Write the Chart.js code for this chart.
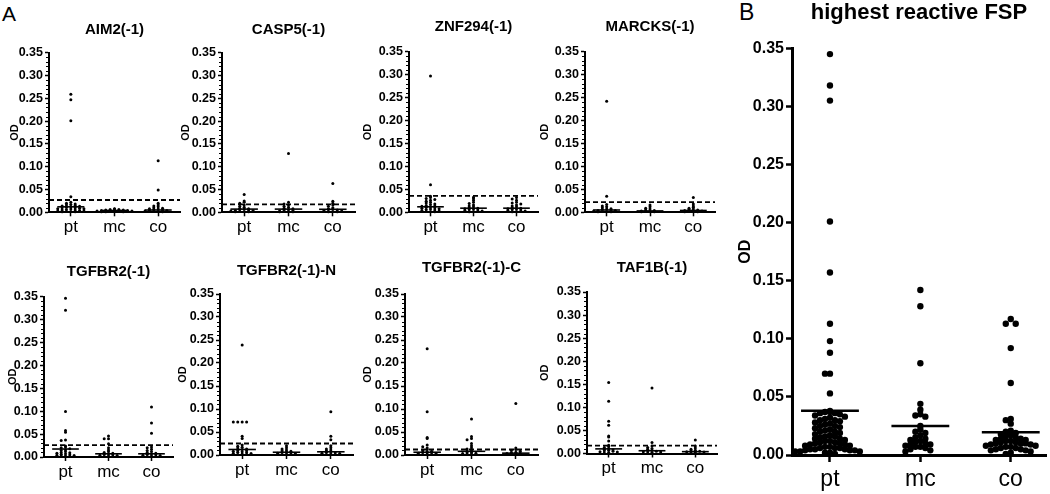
<!DOCTYPE html>
<html>
<head>
<meta charset="utf-8">
<script src="https://cdn.jsdelivr.net/npm/chart.js@4.4.0/dist/chart.umd.min.js"></script>
<style>
  body { margin: 0; background: #fff; width: 1050px; height: 494px; position: relative; overflow: hidden; font-family: "Liberation Sans", Arial, sans-serif; }
  .tag { position: absolute; color: #000; line-height: 1; }
</style>
</head>
<body>
<div class="tag" style="left:2px;top:3px;font-size:21px">A</div>
<div class="tag" style="left:739px;top:1px;font-size:23px">B</div>
<script>
// groups and y ticks shared by every panel
const groups = ["pt", "mc", "co"];
const yTickValues = [0, 0.05, 0.10, 0.15, 0.20, 0.25, 0.30, 0.35];

const panelTitles = ["AIM2(-1)", "CASP5(-1)", "ZNF294(-1)", "MARCKS(-1)",
  "TGFBR2(-1)", "TGFBR2(-1)-N", "TGFBR2(-1)-C", "TAF1B(-1)"];

// OD per peptide, one array per group
const aim2Pt = [0.259, 0.247, 0.201, 0.034, 0.022, 0.020, 0.018, 0.017, 0.016, 0.015, 0.014, 0.013, 0.012, 0.011, 0.010, 0.010, 0.009, 0.008, 0.008, 0.007, 0.006, 0.005, 0.005, 0.004, 0.003, 0.003, 0.002, 0.002, 0.001, 0.001];
const aim2Mc = [0.008, 0.007, 0.006, 0.006, 0.005, 0.005, 0.004, 0.004, 0.003, 0.003, 0.002, 0.002, 0.002, 0.001, 0.001, 0.001];
const aim2Co = [0.113, 0.049, 0.020, 0.016, 0.014, 0.012, 0.010, 0.009, 0.008, 0.007, 0.006, 0.005, 0.004, 0.004, 0.003, 0.002, 0.002, 0.001];

const casp5Pt = [0.039, 0.025, 0.022, 0.020, 0.016, 0.013, 0.011, 0.009, 0.008, 0.007, 0.006, 0.005, 0.004, 0.004, 0.003, 0.002, 0.002, 0.001, 0.001];
const casp5Mc = [0.129, 0.022, 0.018, 0.016, 0.013, 0.011, 0.009, 0.008, 0.006, 0.005, 0.004, 0.003, 0.002, 0.002, 0.001, 0.001];
const casp5Co = [0.063, 0.024, 0.020, 0.016, 0.013, 0.010, 0.008, 0.007, 0.006, 0.005, 0.004, 0.003, 0.002, 0.001, 0.001];

const znf294Pt = [0.297, 0.060, 0.035, 0.032, 0.030, 0.028, 0.026, 0.024, 0.022, 0.020, 0.018, 0.017, 0.015, 0.014, 0.013, 0.012, 0.011, 0.010, 0.009, 0.008, 0.007, 0.006, 0.005, 0.004, 0.003, 0.002, 0.002, 0.001];
const znf294Mc = [0.033, 0.030, 0.026, 0.022, 0.019, 0.016, 0.014, 0.012, 0.010, 0.009, 0.008, 0.007, 0.006, 0.005, 0.004, 0.003, 0.002, 0.001];
const znf294Co = [0.032, 0.029, 0.026, 0.022, 0.020, 0.018, 0.016, 0.014, 0.012, 0.010, 0.009, 0.008, 0.007, 0.006, 0.005, 0.004, 0.003, 0.002, 0.001];

const marcksPt = [0.242, 0.035, 0.017, 0.014, 0.012, 0.010, 0.008, 0.007, 0.006, 0.005, 0.004, 0.004, 0.003, 0.002, 0.002, 0.001, 0.001];
const marcksMc = [0.016, 0.012, 0.009, 0.007, 0.005, 0.004, 0.003, 0.002, 0.002, 0.001, 0.001];
const marcksCo = [0.032, 0.018, 0.014, 0.011, 0.009, 0.007, 0.006, 0.005, 0.004, 0.003, 0.002, 0.002, 0.001, 0.001];

const tgfbr2Pt = [0.346, 0.320, 0.099, 0.058, 0.054, 0.037, 0.036, 0.024, 0.022, 0.020, 0.018, 0.016, 0.014, 0.012, 0.010, 0.009, 0.008, 0.007, 0.006, 0.005, 0.004, 0.003, 0.002, 0.002, 0.001];
const tgfbr2Mc = [0.046, 0.040, 0.040, 0.029, 0.020, 0.015, 0.012, 0.010, 0.008, 0.007, 0.006, 0.005, 0.004, 0.003, 0.002, 0.001];
const tgfbr2Co = [0.109, 0.074, 0.052, 0.022, 0.020, 0.017, 0.014, 0.012, 0.010, 0.008, 0.007, 0.006, 0.005, 0.004, 0.003, 0.002, 0.001];

const tgfbr2NPt = [0.239, 0.072, 0.072, 0.072, 0.072, 0.041, 0.036, 0.022, 0.019, 0.017, 0.015, 0.013, 0.012, 0.010, 0.009, 0.008, 0.007, 0.006, 0.005, 0.004, 0.003, 0.002, 0.001];
const tgfbr2NMc = [0.020, 0.016, 0.013, 0.011, 0.009, 0.008, 0.007, 0.006, 0.005, 0.004, 0.003, 0.002, 0.001];
const tgfbr2NCo = [0.094, 0.041, 0.033, 0.020, 0.016, 0.013, 0.011, 0.009, 0.007, 0.006, 0.005, 0.004, 0.003, 0.002, 0.001];

const tgfbr2CPt = [0.231, 0.094, 0.038, 0.036, 0.022, 0.018, 0.015, 0.012, 0.010, 0.008, 0.007, 0.006, 0.005, 0.004, 0.003, 0.002, 0.001];
const tgfbr2CMc = [0.078, 0.040, 0.036, 0.033, 0.025, 0.020, 0.016, 0.013, 0.010, 0.008, 0.006, 0.005, 0.004, 0.003, 0.002, 0.001];
const tgfbr2CCo = [0.112, 0.015, 0.012, 0.010, 0.008, 0.006, 0.005, 0.004, 0.003, 0.002, 0.001];

const taf1bPt = [0.154, 0.113, 0.070, 0.061, 0.038, 0.036, 0.027, 0.018, 0.015, 0.013, 0.011, 0.009, 0.008, 0.007, 0.006, 0.005, 0.004, 0.003, 0.002, 0.001];
const taf1bMc = [0.142, 0.024, 0.016, 0.013, 0.011, 0.009, 0.007, 0.006, 0.005, 0.004, 0.003, 0.002, 0.001];
const taf1bCo = [0.029, 0.016, 0.012, 0.009, 0.007, 0.006, 0.005, 0.004, 0.003, 0.002, 0.001];

// dashed cutoff and group lines (pt, mc, co) per panel
const cutoffs = [0.027, 0.0175, 0.036, 0.022, 0.026, 0.025, 0.012, 0.017];
const groupLines = [
  [0.012, 0.004, 0.005], [0.007, 0.007, 0.0066], [0.012, 0.009, 0.009], [0.005, 0.003, 0.004],
  [0.0174, 0.007, 0.007], [0.012, 0.006, 0.007], [0.006, 0.008, 0.004], [0.010, 0.006, 0.004]
];

// panel B: highest reactive FSP
const fspPt = [0.345, 0.318, 0.305, 0.201, 0.157, 0.113, 0.098, 0.088, 0.070, 0.070, 0.053,
  0.038, 0.037, 0.037, 0.036, 0.036, 0.035, 0.034, 0.033, 0.032, 0.031, 0.030, 0.030, 0.029, 0.028, 0.027,
  0.026, 0.025, 0.025, 0.024, 0.023, 0.022, 0.021, 0.020, 0.020, 0.019, 0.018, 0.017, 0.016, 0.016, 0.015,
  0.014, 0.014, 0.013, 0.012, 0.012, 0.011, 0.011, 0.010, 0.010, 0.009, 0.009, 0.008, 0.008, 0.007, 0.007,
  0.006, 0.006, 0.006, 0.005, 0.005, 0.005, 0.004, 0.004, 0.004, 0.003, 0.003, 0.003, 0.002, 0.002, 0.001];
const fspMc = [0.142, 0.128, 0.079, 0.044, 0.039, 0.035, 0.034, 0.033, 0.025, 0.022, 0.020, 0.019, 0.017, 0.015, 0.014, 0.013, 0.012, 0.011, 0.010, 0.009, 0.009, 0.008, 0.007, 0.007, 0.006, 0.005, 0.004, 0.003];
const fspCo = [0.117, 0.113, 0.113, 0.092, 0.062, 0.031, 0.030, 0.027, 0.021, 0.020, 0.019, 0.018, 0.017, 0.016, 0.015, 0.014, 0.014, 0.013, 0.013, 0.012, 0.012, 0.011, 0.011, 0.010, 0.010, 0.010, 0.009, 0.009, 0.008, 0.008, 0.007, 0.007, 0.006, 0.006, 0.005, 0.005, 0.004, 0.004, 0.003, 0.002, 0.001];
const fspLines = [0.038, 0.025, 0.0195];

const panelData = [
  [aim2Pt, aim2Mc, aim2Co], [casp5Pt, casp5Mc, casp5Co], [znf294Pt, znf294Mc, znf294Co], [marcksPt, marcksMc, marcksCo],
  [tgfbr2Pt, tgfbr2Mc, tgfbr2Co], [tgfbr2NPt, tgfbr2NMc, tgfbr2NCo], [tgfbr2CPt, tgfbr2CMc, tgfbr2CCo], [taf1bPt, taf1bMc, taf1bCo]
];

// where each panel sits on the page (plot area edges, title and OD centre)
const boxes = [
  { x0: 49, x1: 180, y0: 52.7, y1: 212.3, top: 10, bottom: 244, titleY: 30, odX: 15 },
  { x0: 222, x1: 355, y0: 52.7, y1: 212.3, top: 10, bottom: 244, titleY: 29.5, odX: 186 },
  { x0: 409, x1: 538, y0: 51.7, y1: 212.3, top: 10, bottom: 244, titleY: 27, odX: 368 },
  { x0: 585, x1: 715, y0: 51.7, y1: 212.3, top: 10, bottom: 244, titleY: 27, odX: 545 },
  { x0: 44, x1: 173, y0: 296.5, y1: 457, top: 250, bottom: 492, titleY: 272, odX: 13 },
  { x0: 220, x1: 353, y0: 294, y1: 455, top: 250, bottom: 492, titleY: 271, odX: 183 },
  { x0: 405, x1: 538, y0: 294, y1: 455, top: 250, bottom: 492, titleY: 268, odX: 368 },
  { x0: 587, x1: 717, y0: 292, y1: 453.5, top: 250, bottom: 492, titleY: 268, odX: 545 }
];
const bigBox = { x0: 792, x1: 1047, y0: 48.3, y1: 455, top: 0, bottom: 494, titleY: 13, odX: 746 };

const smallStyle = { yw: 52, right: 8, titleSize: 15, tickFont: 12.5, odFont: 11, catFont: 17, catPad: 1,
  xTick: 4, yTick: 4, border: 2, tickW: 1.5, radius: 1.5, lineW: 1.6, halfLine: 0.31,
  bin: 0.005, step: 0.1, xmin: 0.5, xmax: 3.5, minor: true, dashW: 1.8 };
const bigStyle = { yw: 57, right: 3, titleSize: 22, tickFont: 16, odFont: 16, catFont: 23, catPad: 4,
  xTick: 7, yTick: 6, border: 3, tickW: 2.5, radius: 3.2, lineW: 2.5, halfLine: 0.32,
  bin: 0.005, step: 0.055, xmin: 0.58, xmax: 3.39, minor: false, dashW: 2 };

const FONT = "'Liberation Sans', Arial, sans-serif";

// spread points that share a height sideways (beeswarm)
function swarm(values, g, bin, step) {
  const used = {};
  return values.map(v => {
    const b = Math.round(v / bin);
    const n = used[b] || 0;
    used[b] = n + 1;
    const off = n === 0 ? 0 : (n % 2 ? -1 : 1) * Math.ceil(n / 2) * step;
    return { x: g + off, y: v };
  });
}

// small ticks every 0.01 on the y axis
const minorTicks = {
  id: "minorTicks",
  afterDraw(chart, args, opts) {
    if (!opts.show) return;
    const ys = chart.scales.y, ctx = chart.ctx, x = chart.chartArea.left;
    ctx.save();
    ctx.strokeStyle = "#000";
    ctx.lineWidth = 1;
    for (let i = 1; i < 35; i++) {
      if (i % 5 === 0) continue;
      const py = Math.round(ys.getPixelForValue(i / 100)) + 0.5;
      ctx.beginPath();
      ctx.moveTo(x - 3, py);
      ctx.lineTo(x, py);
      ctx.stroke();
    }
    ctx.restore();
  }
};

function drawPanel(box, s, title, series, lines, cutoff) {
  const left = box.x0 - s.yw;
  const w = box.x1 + s.right - left;
  const h = box.bottom - box.top;
  const cv = document.createElement("canvas");
  cv.width = w;
  cv.height = h;
  cv.style.cssText = `position:absolute;left:${left}px;top:${box.top}px;width:${w}px;height:${h}px`;
  document.body.appendChild(cv);

  const titleLH = s.titleSize * 1.2;
  const tPadTop = Math.max(0, box.titleY - box.top - titleLH / 2);
  const tPadBottom = box.y0 - box.top - tPadTop - titleLH;
  const odLH = s.odFont * 1.2;

  const datasets = [];
  series.forEach((vals, i) => {
    datasets.push({
      data: swarm(vals, i + 1, s.bin, s.step),
      pointRadius: s.radius, pointBackgroundColor: "#000", pointBorderWidth: 0, clip: false
    });
  });
  lines.forEach((m, i) => {
    datasets.push({
      data: [{ x: i + 1 - s.halfLine, y: m }, { x: i + 1 + s.halfLine, y: m }],
      showLine: true, borderColor: "#000", borderWidth: s.lineW, pointRadius: 0, clip: false
    });
  });
  if (cutoff !== undefined) {
    datasets.push({
      data: [{ x: s.xmin, y: cutoff }, { x: s.xmax, y: cutoff }],
      showLine: true, borderColor: "#000", borderWidth: s.dashW, borderDash: [5, 3], pointRadius: 0
    });
  }

  new Chart(cv, {
    type: "scatter",
    data: { datasets },
    options: {
      responsive: false,
      animation: false,
      layout: { padding: { top: 0, right: s.right, bottom: 0, left: 0 } },
      plugins: {
        legend: { display: false },
        tooltip: { enabled: false },
        title: {
          display: true, text: title, fullSize: false, color: "#000",
          font: { family: FONT, size: s.titleSize, weight: "bold", lineHeight: 1.2 },
          padding: { top: tPadTop, bottom: tPadBottom }
        },
        minorTicks: { show: s.minor }
      },
      scales: {
        x: {
          type: "linear", min: s.xmin, max: s.xmax,
          afterBuildTicks: sc => { sc.ticks = groups.map((g, i) => ({ value: i + 1 })); },
          afterFit: sc => { sc.height = box.bottom - box.y1; },
          ticks: {
            callback: v => groups[v - 1], color: "#000", autoSkip: false, maxRotation: 0,
            padding: s.catPad, font: { family: FONT, size: s.catFont }
          },
          grid: { drawOnChartArea: false, tickLength: s.xTick, tickWidth: s.tickW, color: "#000" },
          border: { color: "#000", width: s.border }
        },
        y: {
          min: 0, max: 0.35,
          afterBuildTicks: sc => { sc.ticks = yTickValues.map(v => ({ value: v })); },
          afterFit: sc => { sc.width = s.yw; },
          ticks: {
            callback: v => v.toFixed(2), color: "#000", padding: 2,
            font: { family: FONT, size: s.tickFont, weight: "bold" }
          },
          grid: { drawOnChartArea: false, tickLength: s.yTick, tickWidth: s.tickW, color: "#000" },
          border: { color: "#000", width: s.border },
          title: {
            display: true, text: "OD", color: "#000",
            font: { family: FONT, size: s.odFont, weight: "bold", lineHeight: 1.2 },
            padding: { top: box.odX - left - odLH / 2, bottom: 0 }
          }
        }
      }
    },
    plugins: [minorTicks]
  });
}

boxes.forEach((box, i) => {
  drawPanel(box, smallStyle, panelTitles[i], panelData[i], groupLines[i], cutoffs[i]);
});
drawPanel(bigBox, bigStyle, "highest reactive FSP", [fspPt, fspMc, fspCo], fspLines);
</script>
</body>
</html>
